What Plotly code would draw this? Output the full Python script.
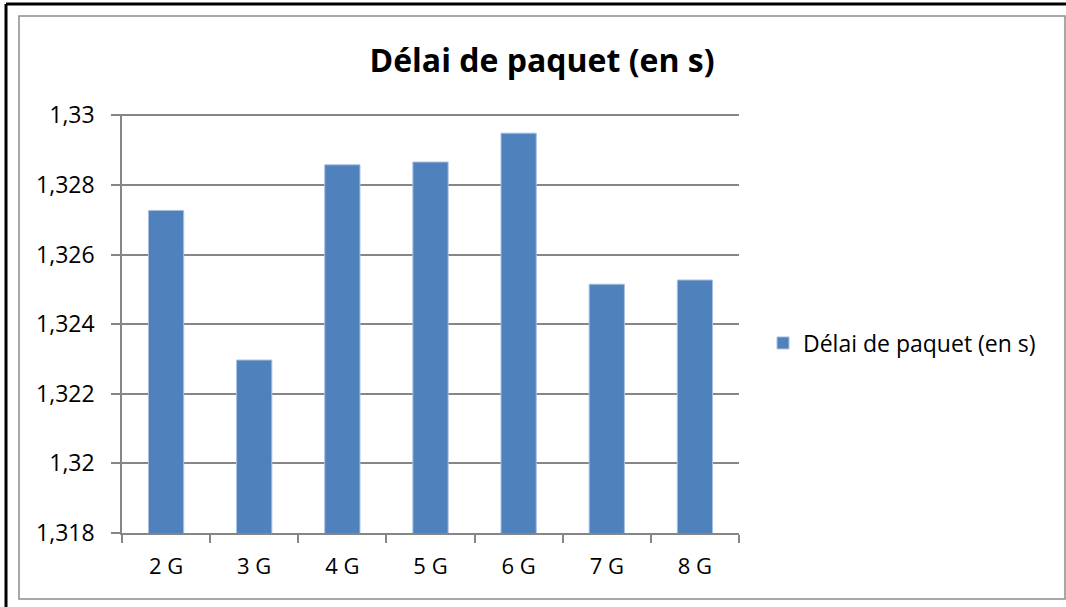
import plotly.graph_objects as go

categories = ["2 G", "3 G", "4 G", "5 G", "6 G", "7 G", "8 G"]
delai = [1.32727, 1.32297, 1.32858, 1.32866, 1.32949, 1.32515, 1.32527]
series_name = "Délai de paquet (en s)"
title_text = "Délai de paquet (en s)"
y_tickvals = [1.318, 1.320, 1.322, 1.324, 1.326, 1.328, 1.330]
y_ticktext = ["1,318", "1,32", "1,322", "1,324", "1,326", "1,328", "1,33"]

W, H = 1066, 607
L, R, T, B = 122, 739, 114, 533

def px(x):
    return (x - L) / (R - L)

def py(y):
    return (B - y) / (B - T)

FONT = "Open Sans"

fig = go.Figure()
fig.add_trace(go.Bar(
    x=categories, y=delai, name=series_name,
    marker=dict(color="#4F81BD", line=dict(color="#A9C0E0", width=1)),
    showlegend=True,
))

shapes = [
    dict(type="rect", xref="paper", yref="paper",
         x0=px(19), x1=px(1065), y0=py(599), y1=py(16),
         line=dict(color="#8C8C8C", width=1.5), layer="below"),
    dict(type="line", xref="paper", yref="paper",
         x0=px(6), x1=px(6), y0=py(612), y1=py(4),
         line=dict(color="#000000", width=3)),
    dict(type="line", xref="paper", yref="paper",
         x0=px(6), x1=px(1070), y0=py(4), y1=py(4),
         line=dict(color="#000000", width=3)),
]

fig.update_layout(
    width=W, height=H,
    margin=dict(l=L, r=W - R, t=T, b=H - B),
    paper_bgcolor="white", plot_bgcolor="white",
    font=dict(family=FONT, size=22, color="#000000"),
    title=dict(text="<b>" + title_text + "</b>", x=px(542), xref="paper",
               xanchor="center", y=1 - 61 / H, yanchor="middle",
               font=dict(family=FONT, size=32, color="#000000")),
    bargap=0.6,
    showlegend=True,
    legend=dict(x=px(763), y=py(343), xanchor="left", yanchor="middle",
                font=dict(family=FONT, size=23, color="#000000"),
                bgcolor="rgba(0,0,0,0)", itemwidth=30),
    shapes=shapes,
    xaxis=dict(
        showline=True, linecolor="#868686", linewidth=1.5,
        ticks="outside", tickson="boundaries", ticklen=8,
        tickcolor="#868686", tickwidth=1.5, ticklabelstandoff=13,
        showgrid=False, tickfont=dict(family=FONT, size=22),
    ),
    yaxis=dict(
        range=[1.318, 1.33004],
        tickvals=y_tickvals, ticktext=y_ticktext,
        showline=True, linecolor="#868686", linewidth=1.5,
        ticks="outside", ticklen=9, tickcolor="#868686", tickwidth=1.5,
        ticklabelstandoff=12,
        showgrid=True, gridcolor="#868686", gridwidth=1.5,
        zeroline=False, tickfont=dict(family=FONT, size=23),
    ),
)

fig.write_html(
    "out.html",
    config={"displayModeBar": False},
    post_script="document.body.style.margin='0';document.body.style.overflow='hidden';",
)
